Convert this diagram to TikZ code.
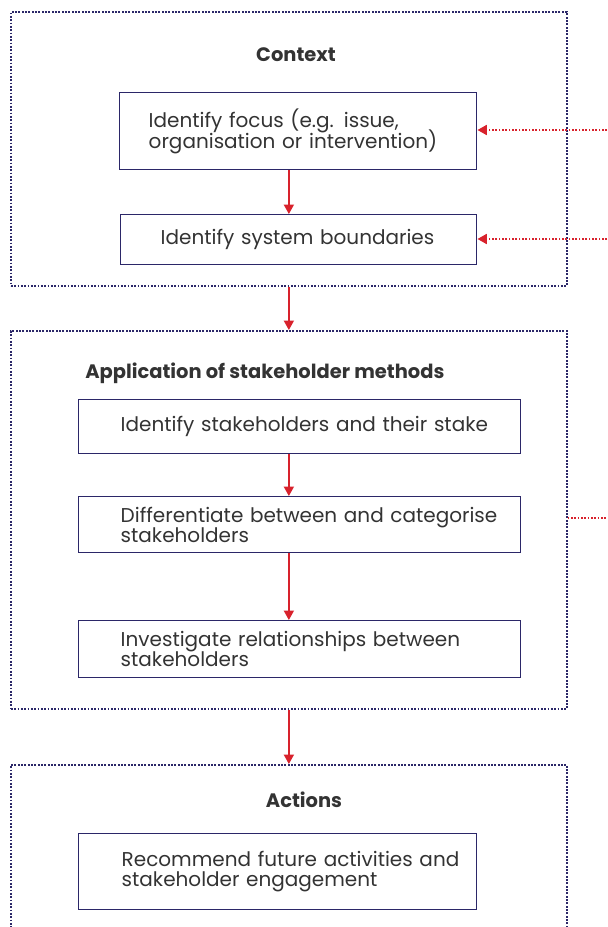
\documentclass[tikz,border=0pt]{standalone}
\usepackage{fontspec}
\setmainfont{Poppins}
\usetikzlibrary{arrows.meta}
\definecolor{framenavy}{HTML}{2B2768}
\definecolor{flowred}{HTML}{D8222C}
\definecolor{textgrey}{HTML}{333333}

\begin{document}
\begin{tikzpicture}[x=0.75pt,y=-0.75pt,
  panel/.style={draw=framenavy, line width=1.3pt, dash pattern=on 1.3pt off 1.2pt,
    inner sep=0pt, minimum width=417pt, anchor=north west},
  paneltitle/.style={text=textgrey, font=\fontsize{14.6}{17}\selectfont\bfseries, inner sep=0pt},
  stepbox/.style n args={3}{draw=framenavy, line width=1.1pt, text=textgrey,
    font=\fontsize{15}{15.3}\selectfont, align=left, inner xsep=0pt, inner ysep=0pt,
    anchor=north west, text width=#1, minimum height=#2,
    execute at begin node={\leftskip=#3\lineskiplimit=-20pt}},
  flow/.style={draw=flowred, line width=1.1pt, -{Triangle[width=7.5pt,length=7pt]}},
  feed/.style={draw=flowred, line width=1.3pt, dash pattern=on 1.3pt off 1.2pt},
]
\useasboundingbox (0,0) rectangle (607,927);
\clip (0,0) rectangle (607,927);

% outer frames
\node[panel, minimum height=205.5pt] (ctxframe) at (10,11) {};
\node[panel, minimum height=283.5pt] (appframe) at (10,330) {};
\node[panel, minimum height=225pt] (actframe) at (10,764) {};

\node[paneltitle] (ctxtitle) at (296,55) {Context};
\node[paneltitle, anchor=west] (apptitle) at (85,373) {Application of stakeholder methods};
\node[paneltitle] (acttitle) at (304,800) {Actions};

% steps
\node[stepbox={267.75pt}{57.75pt}{21.75pt}] (focus) at (119,92)
{Identify focus (e.g. issue,\\organisation or intervention)};
\node[stepbox={267pt}{37.5pt}{30pt}] (bounds) at (120,214)
{Identify system boundaries};
\node[stepbox={331.5pt}{40.5pt}{31.5pt}] (stake) at (78,399)
{Identify stakeholders and their stake};
\node[stepbox={331.5pt}{42pt}{31.5pt}] (differ) at (78,496)
{Differentiate between and categorise\\stakeholders};
\node[stepbox={331.5pt}{42.75pt}{31.5pt}] (invest) at (78,620)
{Investigate relationships between\\stakeholders};
\node[stepbox={298.5pt}{57pt}{32.25pt}] (recom) at (78,833)
{Recommend future activities and\\stakeholder engagement};

\coordinate (focusfeed) at (607,130);
\coordinate (boundsfeed) at (607,239);
\coordinate (differfeed) at (607,518);

\draw[flow] (focus.south -| ctxframe.south) -- (bounds.north -| ctxframe.south);
\draw[flow] (ctxframe.south) -- (appframe.north);
\draw[flow] (stake.south -| appframe.south) -- (differ.north -| appframe.south);
\draw[flow] (differ.south -| appframe.south) -- (invest.north -| appframe.south);
\draw[flow] (appframe.south) -- (actframe.north);

\draw[feed, -{Triangle[width=7.5pt,length=7pt]}] (focusfeed) -- (focusfeed -| focus.east);
\draw[feed, -{Triangle[width=7.5pt,length=7pt]}] (boundsfeed) -- (boundsfeed -| bounds.east);
\draw[feed] (differfeed -| appframe.east) -- (differfeed);
\end{tikzpicture}
\end{document}
